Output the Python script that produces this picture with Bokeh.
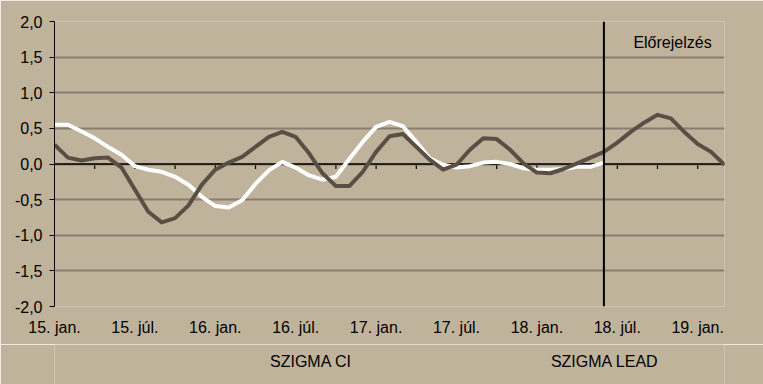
from bokeh.plotting import figure
from bokeh.layouts import column
from bokeh.models import Range1d, FixedTicker, Span, Label, Legend, LegendItem, CustomJSTickFormatter
from bokeh.embed import file_html
from bokeh.resources import INLINE

# ---- data (monthly, Jan 2015 .. Mar 2019) ----
tick_labels = ["15. jan.", "15. júl.", "16. jan.", "16. júl.", "17. jan.",
               "17. júl.", "18. jan.", "18. júl.", "19. jan."]
szigma_ci = [0.55, 0.55, 0.46, 0.36, 0.24, 0.13, -0.03, -0.08, -0.11, -0.18,
             -0.29, -0.46, -0.59, -0.61, -0.51, -0.28, -0.09, 0.03, -0.05, -0.16,
             -0.22, -0.18, 0.07, 0.31, 0.52, 0.59, 0.53, 0.31, 0.08, -0.01,
             -0.05, -0.03, 0.02, 0.03, 0.00, -0.06, -0.08, -0.08, -0.07, -0.04,
             -0.04, 0.02]
szigma_lead = [0.27, 0.09, 0.05, 0.08, 0.09, -0.05, -0.36, -0.67, -0.82, -0.76,
               -0.58, -0.29, -0.08, 0.02, 0.10, 0.24, 0.38, 0.45, 0.38, 0.15,
               -0.13, -0.31, -0.31, -0.11, 0.17, 0.39, 0.42, 0.24, 0.06, -0.08,
               -0.01, 0.20, 0.36, 0.35, 0.20, 0.01, -0.12, -0.13, -0.07, 0.01,
               0.09, 0.17, 0.30, 0.45, 0.58, 0.69, 0.64, 0.45, 0.28, 0.17, -0.01]
forecast_label = "Előrejelzés"
series_names = ["SZIGMA CI", "SZIGMA LEAD"]

BG = "#C0B39B"
DARK = "#5A4F45"
GRID = "#877E71"
FONT = "Liberation Sans"

n = len(szigma_lead)
x_lead = list(range(n))
x_ci = list(range(len(szigma_ci)))
forecast_start = len(szigma_ci) - 1

# ---- main chart ----
p = figure(width=763, height=344, output_backend="svg", toolbar_location=None,
           x_range=Range1d(0, n - 1), y_range=Range1d(-2, 2),
           min_border_left=54, min_border_right=39, min_border_top=21, min_border_bottom=38,
           background_fill_color=BG, border_fill_color=BG)
p.outline_line_color = None

p.xgrid.visible = False
p.ygrid.grid_line_color = GRID
p.ygrid.grid_line_width = 2

p.yaxis.ticker = FixedTicker(ticks=[-2, -1.5, -1, -0.5, 0, 0.5, 1, 1.5, 2])
p.yaxis.formatter = CustomJSTickFormatter(code="return tick.toFixed(1).replace('.', ',');")
p.yaxis.axis_line_color = "black"
p.yaxis.axis_line_width = 1
p.yaxis.major_tick_line_color = "black"
p.yaxis.major_tick_out = 5
p.yaxis.major_tick_in = 0
p.yaxis.minor_tick_line_color = None
p.yaxis.major_label_standoff = 7
p.yaxis.major_label_text_font = FONT
p.yaxis.major_label_text_font_size = "16px"
p.yaxis.major_label_text_color = "black"

label_pos = list(range(0, n, 6))
p.xaxis.ticker = FixedTicker(ticks=label_pos)
p.xaxis.major_label_overrides = {pos: lab for pos, lab in zip(label_pos, tick_labels)}
p.xaxis.axis_line_color = None
p.xaxis.major_tick_line_color = None
p.xaxis.minor_tick_line_color = None
p.xaxis.major_tick_out = 0
p.xaxis.major_label_standoff = 12
p.xaxis.major_label_text_font = FONT
p.xaxis.major_label_text_font_size = "16px"
p.xaxis.major_label_text_color = "black"

zero = Span(location=0, dimension="width", line_color="black", line_width=1.5, level="underlay")
p.add_layout(zero)
tick_x = list(range(3, n, 3))
p.segment(x0=tick_x, y0=[0] * len(tick_x), x1=tick_x, y1=[-0.07] * len(tick_x),
          line_color="black", line_width=1.2, level="underlay")

p.line(x_ci, szigma_ci, line_color="white", line_width=4, line_join="round")
p.line(x_lead, szigma_lead, line_color=DARK, line_width=4, line_join="round")

vline = Span(location=forecast_start, dimension="height", line_color="black", line_width=2)
p.add_layout(vline)
p.add_layout(Label(x=43.2, y=1.70, text=forecast_label, text_font=FONT,
                   text_font_size="16px", text_color="black", text_baseline="alphabetic"))

# ---- legend strip ----
lg = figure(width=763, height=40, output_backend="svg", toolbar_location=None,
            x_range=Range1d(0, 1), y_range=Range1d(0, 1),
            x_axis_type=None, y_axis_type=None,
            min_border_left=0, min_border_right=0, min_border_top=0, min_border_bottom=0,
            background_fill_color=BG, border_fill_color=BG)
lg.outline_line_color = None
lg.grid.visible = False
k_ci = lg.line(x=[], y=[], line_color="white", line_width=4)
k_lead = lg.line(x=[], y=[], line_color=DARK, line_width=4)

legend = Legend(items=[LegendItem(label=series_names[0], renderers=[k_ci]),
                       LegendItem(label=series_names[1], renderers=[k_lead])],
                orientation="horizontal", location=(170, 12),
                padding=0, margin=0, spacing=154, glyph_width=43, glyph_height=18,
                label_height=20, label_standoff=3, label_text_font=FONT,
                label_text_font_size="16px", label_text_color="black",
                border_line_alpha=0, background_fill_alpha=0)
lg.add_layout(legend)

layout = column(p, lg, spacing=0)
open("out.html", "w").write(file_html(layout, INLINE))
